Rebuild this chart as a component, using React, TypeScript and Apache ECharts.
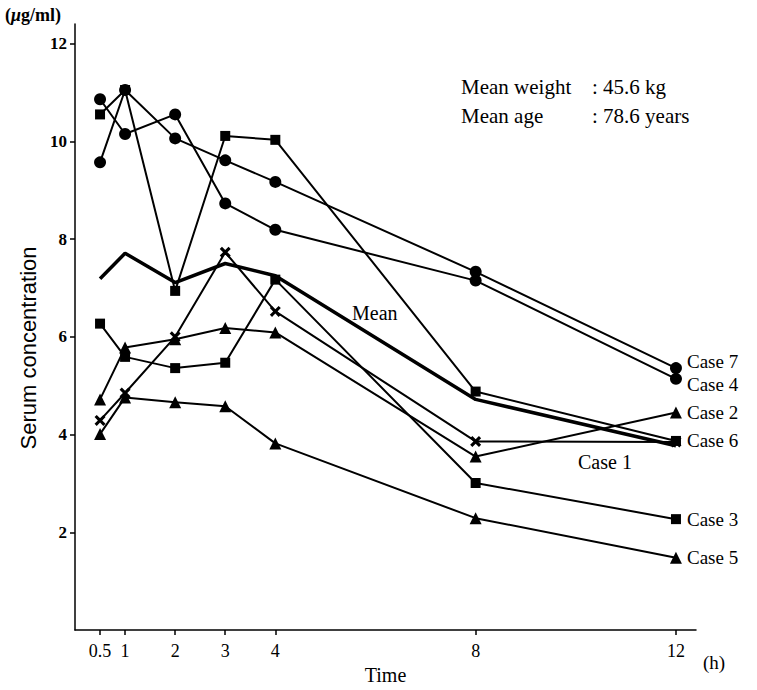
import React, { useEffect, useRef } from "react";
import * as echarts from "echarts";

// ---- data ----
const times = [0.5, 1, 2, 3, 4, 8, 12];
const xTicks = [0.5, 1, 2, 3, 4, 8, 12];
const yTicks = [2, 4, 6, 8, 10, 12];

const case1 = [4.29, 4.85, 6.0, 7.73, 6.52, 3.86, 3.85];
const case2 = [4.72, 5.78, 5.95, 6.18, 6.09, 3.55, 4.45];
const case3 = [6.27, 5.59, 5.36, 5.47, 7.17, 3.01, 2.27];
const case4 = [10.86, 10.15, 10.55, 8.73, 8.19, 7.15, 5.14];
const case5 = [4.01, 4.76, 4.66, 4.58, 3.82, 2.29, 1.48];
const case6 = [10.55, 11.05, 6.94, 10.11, 10.03, 4.88, 3.87];
const case7 = [9.57, 11.05, 10.06, 9.61, 9.17, 7.33, 5.36];
const meanValues = [7.19, 7.71, 7.11, 7.5, 7.25, 4.72, 3.77];

const SERIF = "'Liberation Serif', 'Times New Roman', serif";
const SANS = "'Liberation Sans', Arial, sans-serif";
const CROSS =
  "path://M0,2 L2,0 L5,3 L8,0 L10,2 L7,5 L10,8 L8,10 L5,7 L2,10 L0,8 L3,5 Z";

const toPoints = (vals: number[]) => times.map((t, i) => [t, vals[i]]);

function caseSeries(
  name: string,
  vals: number[],
  symbol: string,
  symbolSize: number,
  showEnd: boolean,
  labelOffset: number[] = [0, 0]
) {
  return {
    name,
    type: "line",
    data: toPoints(vals),
    symbol,
    symbolSize,
    showAllSymbol: true,
    lineStyle: { color: "#000", width: 2 },
    itemStyle: { color: "#000", borderWidth: 0 },
    endLabel: showEnd
      ? {
          show: true,
          formatter: name,
          distance: 11,
          offset: labelOffset,
          fontFamily: SERIF,
          fontSize: 19,
          lineHeight: 19,
          color: "#000",
        }
      : { show: false },
    z: 3,
  };
}

export default function App() {
  const ref = useRef<HTMLDivElement>(null);
  useEffect(() => {
    if (!ref.current) return;
    const chart = echarts.init(ref.current, undefined, { renderer: "svg" });
    const option: any = {
      animation: false,
      backgroundColor: "#fff",
      grid: { left: 75, right: 61, top: 24, bottom: 50 },
      xAxis: {
        type: "value",
        min: 0,
        max: 12.4,
        name: "Time",
        nameLocation: "middle",
        nameGap: 33,
        nameTextStyle: { fontFamily: SERIF, fontSize: 20, color: "#000" },
        axisLine: { onZero: false, lineStyle: { color: "#000", width: 1.5 } },
        axisTick: {
          show: true,
          customValues: xTicks,
          length: 5,
          lineStyle: { color: "#000", width: 1.5 },
        },
        axisLabel: {
          customValues: xTicks,
          formatter: (v: number) => String(v),
          fontFamily: SERIF,
          fontSize: 18,
          color: "#000",
          margin: 12,
        },
        splitLine: { show: false },
      },
      yAxis: {
        type: "value",
        min: 0,
        max: 12.4,
        axisLine: { show: true, onZero: false, lineStyle: { color: "#000", width: 1.5 } },
        axisTick: {
          show: true,
          customValues: yTicks,
          length: 5,
          lineStyle: { color: "#000", width: 1.5 },
        },
        axisLabel: {
          customValues: yTicks,
          formatter: (v: number) => String(v),
          fontFamily: SERIF,
          fontWeight: "bold",
          fontSize: 17,
          color: "#000",
          margin: 8,
        },
        splitLine: { show: false },
      },
      series: [
        caseSeries("Case 1", case1, CROSS, 11, false),
        caseSeries("Case 2", case2, "triangle", 12, true),
        caseSeries("Case 3", case3, "rect", 10, true),
        caseSeries("Case 4", case4, "circle", 12, true, [0, 6]),
        caseSeries("Case 5", case5, "triangle", 12, true),
        caseSeries("Case 6", case6, "rect", 10, true),
        caseSeries("Case 7", case7, "circle", 12, true, [0, -7]),
        {
          name: "Mean",
          type: "line",
          data: toPoints(meanValues),
          symbol: "none",
          lineStyle: { color: "#000", width: 3.5 },
          z: 2,
        },
      ],
      graphic: [
        {
          type: "text",
          x: 5,
          y: 15,
          style: {
            text: "({i|μ}g/ml)",
            fontFamily: SERIF,
            fontWeight: "bold",
            fontSize: 18,
            fill: "#000",
            verticalAlign: "middle",
            rich: {
              i: {
                fontFamily: SERIF,
                fontStyle: "italic",
                fontWeight: "bold",
                fontSize: 18,
                fill: "#000",
              },
            },
          },
        },
        {
          type: "text",
          x: 28,
          y: 348,
          rotation: Math.PI / 2,
          style: {
            text: "Serum concentration",
            fontFamily: SANS,
            fontSize: 22,
            fill: "#000",
            align: "center",
            verticalAlign: "middle",
          },
        },
        {
          type: "text",
          x: 461,
          y: 87,
          style: { text: "Mean weight", fontFamily: SERIF, fontSize: 21, fill: "#000", verticalAlign: "middle" },
        },
        {
          type: "text",
          x: 592,
          y: 87,
          style: { text: ": 45.6 kg", fontFamily: SERIF, fontSize: 21, fill: "#000", verticalAlign: "middle" },
        },
        {
          type: "text",
          x: 461,
          y: 116,
          style: { text: "Mean age", fontFamily: SERIF, fontSize: 21, fill: "#000", verticalAlign: "middle" },
        },
        {
          type: "text",
          x: 592,
          y: 116,
          style: { text: ": 78.6 years", fontFamily: SERIF, fontSize: 21, fill: "#000", verticalAlign: "middle" },
        },
        {
          type: "text",
          x: 352,
          y: 313,
          style: { text: "Mean", fontFamily: SERIF, fontSize: 20, fill: "#000", verticalAlign: "middle" },
        },
        {
          type: "text",
          x: 578,
          y: 462,
          style: { text: "Case 1", fontFamily: SERIF, fontSize: 20, fill: "#000", verticalAlign: "middle" },
        },
        {
          type: "text",
          x: 703,
          y: 662,
          style: { text: "(h)", fontFamily: SERIF, fontSize: 19, fill: "#000", verticalAlign: "middle" },
        },
      ],
    };
    chart.setOption(option);
    return () => chart.dispose();
  }, []);
  return (
    <div
      ref={ref}
      style={{ position: "absolute", left: 0, top: 0, width: 757, height: 690 }}
    />
  );
}
